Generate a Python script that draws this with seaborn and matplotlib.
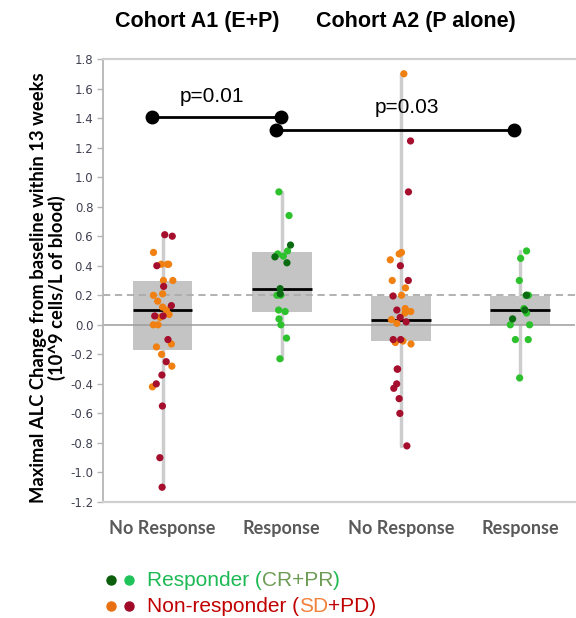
import numpy as np
import pandas as pd
import matplotlib
matplotlib.use("Agg")
import matplotlib.pyplot as plt
import seaborn as sns
from matplotlib.lines import Line2D

# ---------------- data ----------------
categories = ["A1 No Response", "A1 Response", "A2 No Response", "A2 Response"]
tick_labels = ["No Response", "Response", "No Response", "Response"]
cohort_titles = ["Cohort A1 (E+P)", "Cohort A2 (P alone)"]
statuses = ["SD", "PD", "PR", "CR"]

# Cohort A1, no response
a1_nr_sd = [0.49, 0.41, 0.41, 0.41, 0.30, 0.30, 0.21, 0.20, 0.16, 0.12, 0.10,
            0.07, 0.05, 0.00, 0.00, -0.13, -0.15, -0.20, -0.28, -0.42]
a1_nr_pd = [0.61, 0.60, 0.40, 0.26, 0.13, 0.06, 0.06, -0.10, -0.25, -0.34,
            -0.40, -0.55, -0.90, -1.10]
# Cohort A1, response
a1_r_pr = [0.90, 0.74, 0.50, 0.48, 0.465, 0.20, 0.20, 0.10, 0.09, 0.04, 0.00,
           -0.09, -0.23]
a1_r_cr = [0.54, 0.46, 0.42, 0.245, 0.21]
# Cohort A2, no response
a2_nr_sd = [1.70, 0.49, 0.48, 0.44, 0.30, 0.25, 0.20, 0.11, 0.09, 0.08, 0.035,
            0.01, -0.11, -0.12, -0.13]
a2_nr_pd = [1.245, 0.90, 0.40, 0.30, 0.195, 0.10, 0.05, 0.02, -0.10, -0.10,
            -0.30, -0.30, -0.40, -0.43, -0.50, -0.60, -0.82]
# Cohort A2, response
a2_r_pr = [0.50, 0.45, 0.30, 0.20, 0.20, 0.11, 0.08, 0.00, 0.00, -0.10, -0.10,
           -0.36]
a2_r_cr = [0.20, 0.10, 0.04]

# box summaries (q1, median, q3, whisker low, whisker high)
box_q1 = [-0.17, 0.09, -0.11, 0.00]
box_med = [0.10, 0.24, 0.03, 0.10]
box_q3 = [0.30, 0.49, 0.195, 0.195]
box_lo = [-1.10, -0.23, -0.82, -0.36]
box_hi = [0.61, 0.90, 1.70, 0.50]

p_labels = ["p=0.01", "p=0.03"]
p_pairs = [(0, 1), (1, 3)]
p_heights = [1.41, 1.32]

# ---------------- build table ----------------
groups = [
    (categories[0], "SD", a1_nr_sd), (categories[0], "PD", a1_nr_pd),
    (categories[1], "PR", a1_r_pr), (categories[1], "CR", a1_r_cr),
    (categories[2], "SD", a2_nr_sd), (categories[2], "PD", a2_nr_pd),
    (categories[3], "PR", a2_r_pr), (categories[3], "CR", a2_r_cr),
]
rows = []
for cat, st, vals in groups:
    for v in vals:
        rows.append({"group": cat, "status": st, "value": v})
df = pd.DataFrame(rows)

palette = {"SD": "#F08012", "PD": "#A50F2D", "PR": "#2DC22D", "CR": "#0B6B12"}

# ---------------- figure ----------------
sns.set_theme(style="white")
plt.rcParams["font.family"] = ["DejaVu Sans"]

fig = plt.figure(figsize=(5.76, 6.18), dpi=100)
ax = fig.add_axes([103 / 576, 1 - 502 / 618, (575 - 103) / 576, (502 - 59) / 618])

np.random.seed(7)
sns.stripplot(data=df, x="group", y="value", hue="status", order=categories,
              hue_order=statuses, palette=palette, jitter=0.09, size=5.2,
              linewidth=0, legend=False, ax=ax, zorder=3)

stats = []
for i in range(len(categories)):
    stats.append(dict(med=box_med[i], q1=box_q1[i], q3=box_q3[i],
                      whislo=box_lo[i], whishi=box_hi[i], fliers=[]))
ax.bxp(stats, positions=list(range(len(categories))), widths=0.5,
       patch_artist=True, showcaps=False, showfliers=False,
       boxprops=dict(facecolor="#c4c4c4", edgecolor="none", linewidth=0),
       whiskerprops=dict(color="#cdcdcd", linewidth=2.5),
       medianprops=dict(color="black", linewidth=2),
       manage_ticks=False, zorder=1)

ax.axhline(0, color="#9c9c9c", lw=1.1, zorder=1.5)
ax.axhline(0.2, color="#ababab", lw=1.3, ls=(0, (4, 2.6)), zorder=1.5)

# p-value brackets
offs = [(-0.085, -0.01), (-0.05, -0.05)]
text_pos = [(0.41, 1.547), (2.05, 1.47)]
for (a, b), h, (oa, ob), lab, (tx, ty) in zip(p_pairs, p_heights, offs, p_labels, text_pos):
    ax.plot([a + oa, b + ob], [h, h], color="black", lw=2, marker="o", ms=9,
            zorder=4, clip_on=False)
    ax.text(tx, ty, lab, ha="center", va="center", fontsize=15,
            family="Liberation Sans", color="black", zorder=4)

ax.set_xlim(-0.5, 3.46)
ax.set_ylim(-1.2, 1.8)
yt = np.round(np.arange(-1.2, 1.81, 0.2), 1) + 0.0
ax.set_yticks(yt)
ax.set_yticklabels([f"{abs(v):.1f}" if abs(v) < 1e-9 else f"{v:.1f}" for v in yt],
                   fontsize=8.5, color="#3f4050")
ax.set_xticks(range(len(categories)))
ax.set_xticklabels(tick_labels, fontsize=13, fontweight="bold", color="#595959",
                   family="Lato")
ax.tick_params(axis="x", length=0, pad=13)
ax.tick_params(axis="y", length=4, width=1, color="#b5b5b5", direction="out",
               left=True, pad=3)
ax.set_xlabel("")
ax.set_ylabel("")
for s in ["top", "bottom"]:
    ax.spines[s].set_color("#cfcfcf")
    ax.spines[s].set_linewidth(1.6)
ax.spines["left"].set_color("#b5b5b5")
ax.spines["left"].set_linewidth(1.3)
ax.spines["right"].set_visible(False)

# titles
for xc, t in zip([197.5, 416], cohort_titles):
    fig.text(xc / 576, 1 - 22 / 618, t, ha="center", va="center", fontsize=15.5,
             fontweight="bold", family="Liberation Sans", color="black")

# y label
fig.text(48 / 576, 1 - 288 / 618,
         "Maximal ALC Change from baseline within 13 weeks\n(10^9 cells/L of blood)",
         rotation=90, ha="center", va="center", multialignment="center",
         fontsize=13.2, fontweight="bold", family="Lato", linespacing=1.02,
         color="black")

# custom legend
leg_rows = [
    (580, ["#0B5E0B", "#1FC35A"],
     [("Responder (", "#1DB954"), ("CR+PR", "#6E9C55"), (")", "#1DB954")]),
    (606, ["#E87010", "#A00A28"],
     [("Non-responder (", "#C00000"), ("SD", "#F0823C"), ("+PD)", "#C00000")]),
]
for ypx, dots, parts in leg_rows:
    yf = 1 - ypx / 618
    for xpx, c in zip([111, 129], dots):
        fig.add_artist(Line2D([xpx / 576], [yf], transform=fig.transFigure,
                              marker="o", ms=6.5, color=c, linestyle="none"))
    prev = fig.text(147 / 576, yf, parts[0][0], color=parts[0][1], fontsize=15,
                    va="center", ha="left", family="Liberation Sans")
    for txt, c in parts[1:]:
        prev = ax.annotate(txt, xy=(1, 0), xycoords=prev, va="bottom", ha="left",
                           color=c, fontsize=15, family="Liberation Sans",
                           annotation_clip=False)

fig.savefig("out.png", dpi=100)
